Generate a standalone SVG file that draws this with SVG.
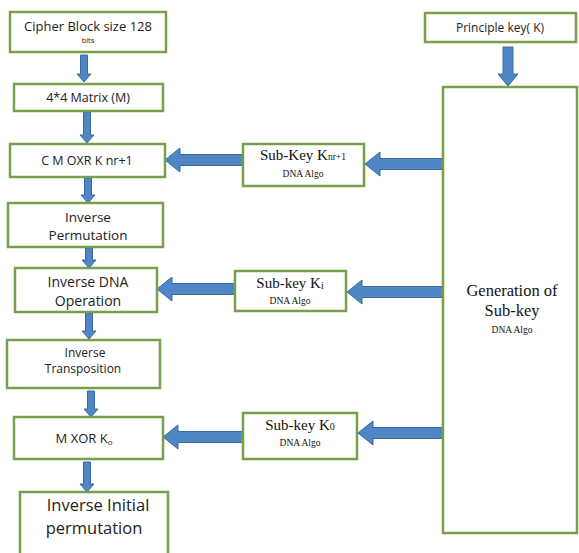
<svg xmlns="http://www.w3.org/2000/svg" width="579" height="553" viewBox="0 0 579 553">
<style>
.box{fill:#fff;stroke:#77a04a;stroke-width:2.5}
.arr{fill:#4f86c6;stroke:#3a6a9e;stroke-width:1}
.s{font-family:"Open Sans","Liberation Sans",sans-serif;fill:#222;text-anchor:middle}
.r{font-family:"Liberation Serif","Times New Roman",serif;fill:#111;text-anchor:middle}
</style>
<rect width="579" height="553" fill="#fff"/>
<g id="connectors">
<polygon class="arr" points="80.5,55 87.5,55 87.5,74 91,74 84,82 77,74 80.5,74"/>
<polygon class="arr" points="83.5,112 90.5,112 90.5,135 94,135 87,143 80,135 83.5,135"/>
<polygon class="arr" points="84.5,178 91.5,178 91.5,195 95,195 88,203 81,195 84.5,195"/>
<polygon class="arr" points="85.5,248 92.5,248 92.5,260 96,260 89,268 82,260 85.5,260"/>
<polygon class="arr" points="85.5,313 92.5,313 92.5,331 96,331 89,339 82,331 85.5,331"/>
<polygon class="arr" points="87.5,391 94.5,391 94.5,409 98,409 91,417 84,409 87.5,409"/>
<polygon class="arr" points="83.5,462 90.5,462 90.5,484 94,484 87,492 80,484 83.5,484"/>
<polygon class="arr" points="503,47 513,47 513,74 518,74 508,86 498,74 503,74"/>
<polygon class="arr" points="443,158.5 380,158.5 380,152 365,164 380,176 380,169.5 443,169.5"/>
<polygon class="arr" points="243,154.5 180,154.5 180,148 165,160 180,172 180,165.5 243,165.5"/>
<polygon class="arr" points="443,286.5 362,286.5 362,280 347,292 362,304 362,297.5 443,297.5"/>
<polygon class="arr" points="235,283.5 172,283.5 172,277 157,289 172,301 172,294.5 235,294.5"/>
<polygon class="arr" points="443,427.5 373,427.5 373,421 358,433 373,445 373,438.5 443,438.5"/>
<polygon class="arr" points="243,431.5 178,431.5 178,425 163,437 178,449 178,442.5 243,442.5"/>
</g>
<g id="cipher-block">
<rect class="box" x="10" y="12" width="156" height="40"/>
<text class="s" x="88" y="31" font-size="13">Cipher Block size 128</text>
<text class="s" x="88" y="43" font-size="7.5">bits</text>
</g>
<g id="matrix">
<rect class="box" x="14" y="84" width="149" height="27"/>
<text class="s" x="88" y="102" font-size="12.5">4*4 Matrix (M)</text>
</g>
<g id="cmoxr">
<rect class="box" x="10" y="144" width="155" height="33"/>
<text class="s" x="87" y="165" font-size="12.5">C M OXR K nr+1</text>
</g>
<g id="inv-perm">
<rect class="box" x="8" y="203" width="155" height="44"/>
<text class="s" x="88" y="222" font-size="13.5">Inverse</text>
<text class="s" x="88" y="240" font-size="13.5">Permutation</text>
</g>
<g id="inv-dna">
<rect class="box" x="15" y="268" width="142" height="44"/>
<text class="s" x="88" y="287" font-size="14">Inverse DNA</text>
<text class="s" x="88" y="306" font-size="14">Operation</text>
</g>
<g id="inv-trans">
<rect class="box" x="7" y="340" width="153" height="48"/>
<text class="s" x="85" y="357" font-size="12">Inverse</text>
<text class="s" x="83" y="373" font-size="12">Transposition</text>
</g>
<g id="mxor">
<rect class="box" x="14" y="417" width="149" height="42"/>
<text class="s" x="84" y="443" font-size="13">M XOR K<tspan font-size="8" dy="2">o</tspan></text>
</g>
<g id="inv-init">
<rect class="box" x="20" y="492" width="148" height="70"/>
<text class="s" x="98" y="511" font-size="16.5">Inverse Initial</text>
<text class="s" x="94" y="534" font-size="16.5">permutation</text>
</g>
<g id="principle-key">
<rect class="box" x="425" y="13" width="151" height="29"/>
<text class="s" x="500" y="32" font-size="12">Principle key( K)</text>
</g>
<g id="generation">
<rect class="box" x="443" y="87" width="134" height="446"/>
<text class="r" x="512" y="296" font-size="16.5">Generation of</text>
<text class="r" x="512" y="316" font-size="16.5">Sub-key</text>
<text class="r" x="512" y="333" font-size="9.5">DNA Algo</text>
</g>
<g id="subkey-nr1">
<rect class="box" x="243" y="144" width="121" height="42"/>
<text class="r" x="303" y="160" font-size="15">Sub-Key K<tspan font-size="9.5">nr+1</tspan></text>
<text class="r" x="303" y="177" font-size="9.5">DNA Algo</text>
</g>
<g id="subkey-i">
<rect class="box" x="235" y="271" width="111" height="40"/>
<text class="r" x="290" y="288" font-size="15">Sub-key K<tspan font-size="10" dy="1">i</tspan></text>
<text class="r" x="290" y="304" font-size="9.5">DNA Algo</text>
</g>
<g id="subkey-0">
<rect class="box" x="243" y="413" width="114" height="46"/>
<text class="r" x="300" y="430" font-size="15">Sub-key K<tspan font-size="10">0</tspan></text>
<text class="r" x="300" y="446" font-size="9.5">DNA Algo</text>
</g>
</svg>
